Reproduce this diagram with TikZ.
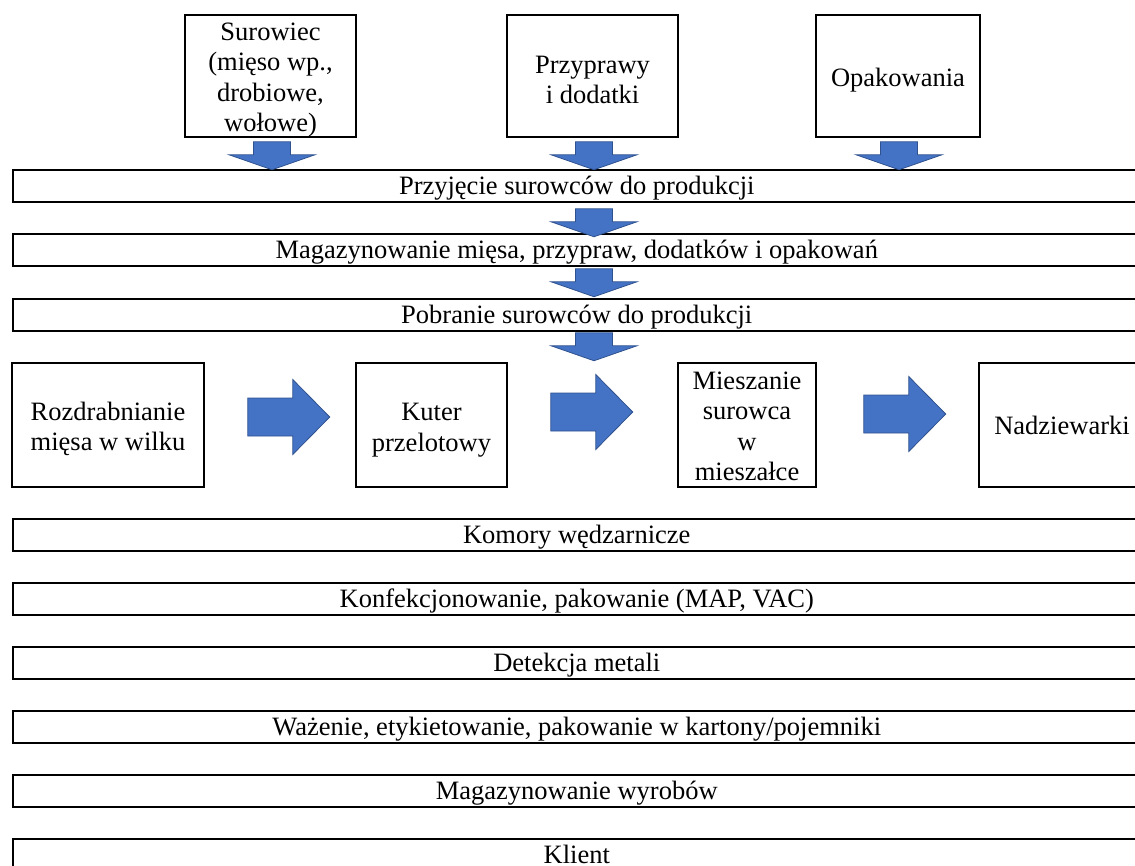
\documentclass[tikz,border=0pt]{standalone}
\usepackage{fontspec}
\setmainfont{Liberation Serif}
\usetikzlibrary{calc}
\definecolor{arrowfill}{HTML}{4472C4}
\definecolor{arrowedge}{HTML}{2F528F}
\tikzset{
  txt/.style={align=center, inner sep=0pt, font=\fontsize{26.5}{30.5}\selectfont},
  frame/.style={draw=black, line width=1.5pt, fill=white, inner sep=0pt},
  bar/.style={frame, txt, text height=20pt, text depth=3pt,
    minimum width=1128pt, minimum height=32pt, anchor=west},
  blockdown/.pic={
    \filldraw[fill=arrowfill, draw=arrowedge, line width=0.8pt]
      (-18.5,0) -- (18.5,0) -- (18.5,13) -- (43,13) -- (0,28) -- (-43,13) -- (-18.5,13) -- cycle;
  },
  blockright/.pic={
    \filldraw[fill=arrowfill, draw=arrowedge, line width=0.8pt]
      (0,-19) -- (45,-19) -- (45,-37.5) -- (82,0) -- (45,37.5) -- (45,19) -- (0,19) -- cycle;
  }
}
\begin{document}
\begin{tikzpicture}[x=1pt, y=-1pt]
\useasboundingbox (0,0) rectangle (1135,865);

% raw material sources
\node[frame, minimum width=171pt, minimum height=122pt] (sur) at (270.5,76) {};
\node[txt] (surt) at ($(sur.center)+(0,4)$) {Surowiec\\(mięso wp.,\\drobiowe,\\wołowe)};
\node[frame, minimum width=171pt, minimum height=122pt] (prz) at (592.5,76) {};
\node[txt] (przt) at ($(prz.center)+(0,4)$) {Przyprawy\\i dodatki};
\node[frame, minimum width=164pt, minimum height=122pt] (opa) at (898,76) {};
\node[txt] (opat) at ($(opa.center)+(0,4)$) {Opakowania};

% full-width process stages
\node[bar] (b1) at (12,186) {Przyjęcie surowców do produkcji};
\node[bar] (b2) at (12,250) {Magazynowanie mięsa, przypraw, dodatków i opakowań};
\node[bar] (b3) at (12,315) {Pobranie surowców do produkcji};

% processing line
\node[frame, minimum width=192pt, minimum height=124pt] (roz) at (108,425) {};
\node[txt] (rozt) at ($(roz.center)+(0,4)$) {Rozdrabnianie\\mięsa w wilku};
\node[frame, minimum width=151pt, minimum height=124pt] (kut) at (431.5,425) {};
\node[txt] (kutt) at ($(kut.center)+(0,5)$) {Kuter\\przelotowy};
\node[frame, minimum width=138pt, minimum height=124pt] (mie) at (747,425) {};
\node[txt] (miet) at ($(mie.center)+(0,1.5)$) {Mieszanie\\surowca\\w\\mieszałce};
\node[frame, minimum width=166pt, minimum height=124pt] (nad) at (1062,425) {};
\node[txt] (nadt) at (nad.center) {Nadziewarki};

\node[bar] (b4) at (12,535) {Komory wędzarnicze};
\node[bar] (b5) at (12,599) {Konfekcjonowanie, pakowanie (MAP, VAC)};
\node[bar] (b6) at (12,663) {Detekcja metali};
\node[bar] (b7) at (12,727) {Ważenie, etykietowanie, pakowanie w kartony/pojemniki};
\node[bar] (b8) at (12,791) {Magazynowanie wyrobów};
\node[bar] (b9) at (12,855) {Klient};

% block arrows into the intake stage
\pic at ($(sur.south)+(1.5,4)$) {blockdown};
\pic at ($(prz.south)+(1.5,4)$) {blockdown};
\pic at ($(opa.south)+(1,4)$) {blockdown};

% block arrows down the storage chain
\pic at ($(b1.south -| prz.south)+(1.5,6)$) {blockdown};
\pic at ($(b2.south -| prz.south)+(1.5,2)$) {blockdown};
\pic at ($(b3.south -| prz.south)+(1.5,1)$) {blockdown};

% block arrows along the processing line
\pic at ($(roz.east)+(43,-8)$) {blockright};
\pic at ($(kut.east)+(43,-13)$) {blockright};
\pic at ($(mie.east)+(47,-11)$) {blockright};
\end{tikzpicture}
\end{document}
